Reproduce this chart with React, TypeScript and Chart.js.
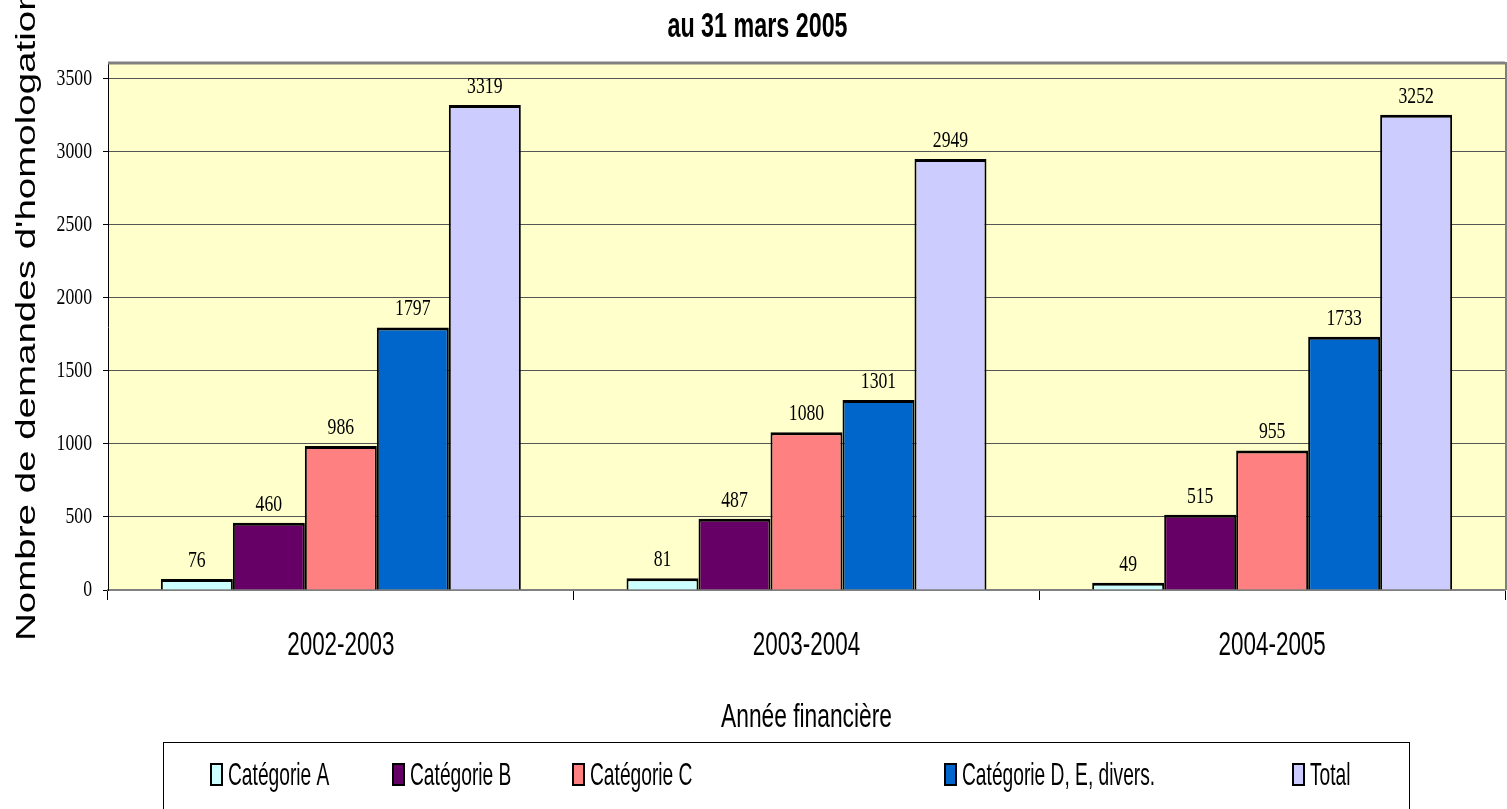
import React, { useEffect, useRef } from "react";
import { Chart, registerables } from "chart.js";

Chart.register(...registerables);

const categories = ["2002-2003", "2003-2004", "2004-2005"];
const seriesLabels = ["Catégorie A", "Catégorie B", "Catégorie C", "Catégorie D, E, divers.", "Total"];
const catA = [76, 81, 49];
const catB = [460, 487, 515];
const catC = [986, 1080, 955];
const catD = [1797, 1301, 1733];
const total = [3319, 2949, 3252];
const seriesColors = ["#CCFFFF", "#660066", "#FF8080", "#0066CC", "#CCCCFF"];
const yTicks = [0, 500, 1000, 1500, 2000, 2500, 3000, 3500];
const yMax = 3600;
const titleText = "au 31 mars 2005";
const yTitleText = "Nombre de demandes d'homologation";
const xTitleText = "Année financière";

const SANS = "'Liberation Sans', Arial, sans-serif";
const SERIF = "'Liberation Serif', 'Times New Roman', serif";

function drawScaled(
  ctx: CanvasRenderingContext2D,
  text: string,
  x: number,
  y: number,
  font: string,
  sx: number,
  align: "left" | "center" | "right",
  baseline: CanvasTextBaseline = "alphabetic"
) {
  ctx.save();
  ctx.font = font;
  ctx.textBaseline = baseline;
  ctx.textAlign = "left";
  ctx.fillStyle = "#000";
  const w = ctx.measureText(text).width * sx;
  const x0 = align === "center" ? x - w / 2 : align === "right" ? x - w : x;
  ctx.translate(x0, y);
  ctx.scale(sx, 1);
  ctx.fillText(text, 0, 0);
  ctx.restore();
}

const decorPlugin = {
  id: "decor",
  beforeDraw(chart: any) {
    const { ctx, chartArea: a } = chart;
    ctx.save();
    ctx.fillStyle = "#FFFFFF";
    ctx.fillRect(0, 0, chart.width, chart.height);
    ctx.fillStyle = "#FFFFCC";
    ctx.fillRect(a.left, a.top, a.right - a.left, a.bottom - a.top);
    ctx.restore();
  },
  afterDatasetsDraw(chart: any) {
    const ctx = chart.ctx;
    chart.data.datasets.forEach((ds: any, i: number) => {
      const meta = chart.getDatasetMeta(i);
      meta.data.forEach((el: any, j: number) => {
        drawScaled(ctx, String(ds.data[j]), el.x, el.y - 12, `23px ${SERIF}`, 0.77, "center");
      });
    });
  },
  afterDraw(chart: any) {
    const { ctx, chartArea: a } = chart;
    // plot frame (top and right)
    ctx.save();
    ctx.strokeStyle = "#808080";
    ctx.lineWidth = 3;
    ctx.beginPath();
    ctx.moveTo(a.left, a.top - 1);
    ctx.lineTo(a.right, a.top - 1);
    ctx.stroke();
    ctx.lineWidth = 2;
    ctx.beginPath();
    ctx.moveTo(a.right + 1, a.top - 2);
    ctx.lineTo(a.right + 1, a.bottom);
    ctx.stroke();
    ctx.restore();

    // title
    drawScaled(ctx, titleText, 757.5, 37, `bold 35px ${SANS}`, 0.666, "center");

    // y axis title
    ctx.save();
    ctx.font = `38.5px ${SANS}`;
    ctx.fillStyle = "#000";
    ctx.textAlign = "left";
    ctx.textBaseline = "alphabetic";
    ctx.translate(35, 641);
    ctx.rotate(-Math.PI / 2);
    ctx.scale(1, 0.72);
    ctx.fillText(yTitleText, 0, 0);
    ctx.restore();

    // y tick labels
    const ys = chart.scales.y;
    ys.ticks.forEach((t: any) => {
      drawScaled(ctx, String(t.value), 92, ys.getPixelForValue(t.value), `23px ${SERIF}`, 0.77, "right", "middle");
    });

    // x tick labels
    const xs = chart.scales.x;
    categories.forEach((c, i) => {
      drawScaled(ctx, c, xs.getPixelForTick(i), 655, `34px ${SANS}`, 0.66, "center");
    });

    // x title
    drawScaled(ctx, xTitleText, (a.left + a.right) / 2, 727, `33px ${SANS}`, 0.69, "center");

    // legend
    ctx.save();
    ctx.strokeStyle = "#000";
    ctx.lineWidth = 1;
    ctx.strokeRect(163.5, 742.5, 1246, 70);
    ctx.restore();
    const legendX = [211, 393, 573, 945, 1293];
    seriesLabels.forEach((lab, i) => {
      const x = legendX[i];
      ctx.save();
      ctx.fillStyle = seriesColors[i];
      ctx.fillRect(x, 764, 11, 21);
      ctx.strokeStyle = "#000";
      ctx.lineWidth = 2;
      ctx.strokeRect(x, 764, 11, 21);
      ctx.restore();
      drawScaled(ctx, lab, x + 17, 785, `32px ${SANS}`, 0.6, "left");
    });
  },
};

export default function App() {
  const ref = useRef<HTMLCanvasElement>(null);
  useEffect(() => {
    document.body.style.margin = "0";
    const seriesData = [catA, catB, catC, catD, total];
    const chart = new Chart(ref.current as HTMLCanvasElement, {
      type: "bar",
      data: {
        labels: categories,
        datasets: seriesData.map((d, i) => ({
          label: seriesLabels[i],
          data: d,
          backgroundColor: seriesColors[i],
          borderColor: "#000",
          borderWidth: { top: 3, left: 2, right: 2, bottom: 0 },
          categoryPercentage: 0.773,
          barPercentage: 1,
        })),
      },
      options: {
        responsive: false,
        animation: false,
        devicePixelRatio: 1,
        layout: { padding: { top: 64, right: 2, left: 0, bottom: 0 } },
        plugins: {
          legend: { display: false },
          title: { display: false },
          tooltip: { enabled: false },
        },
        scales: {
          x: {
            ticks: { display: false },
            grid: { drawOnChartArea: false, tickLength: 10, color: "#000", offset: true },
            border: { display: true, color: "#808080", width: 2 },
            afterFit: (s: any) => {
              s.height = 219;
            },
          },
          y: {
            min: 0,
            max: yMax,
            ticks: { display: false },
            afterBuildTicks: (s: any) => {
              s.ticks = yTicks.map((v) => ({ value: v }));
            },
            grid: { color: "#555", tickLength: 5, drawTicks: true, tickColor: "#000" },
            border: { display: true, color: "#000", width: 1 },
            afterFit: (s: any) => {
              s.width = 108;
            },
          },
        },
      },
      plugins: [decorPlugin],
    } as any);
    return () => chart.destroy();
  }, []);
  return (
    <div style={{ width: 1507, height: 809 }}>
      <canvas ref={ref} width={1507} height={809} style={{ display: "block" }} />
    </div>
  );
}
